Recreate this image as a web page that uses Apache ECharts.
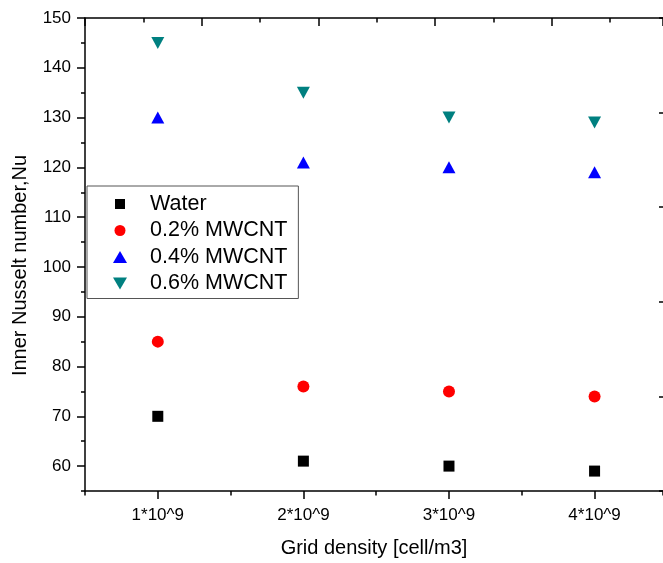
<!DOCTYPE html>
<html><head><meta charset="utf-8">
<script src="https://cdn.jsdelivr.net/npm/echarts@6/dist/echarts.min.js"></script>
<style>html,body{margin:0;padding:0;background:#fff}#c{width:663px;height:563px}</style>
</head><body><div id="c"></div>
<script>
const categories = [1, 2, 3, 4];
const tickLabels = ['1*10^9', '2*10^9', '3*10^9', '4*10^9'];
const seriesNames = ['Water', '0.2% MWCNT', '0.4% MWCNT', '0.6% MWCNT'];
const water = [70, 61, 60, 59];
const mwcnt02 = [85, 76, 75, 74];
const mwcnt04 = [130, 121, 120, 119];
const mwcnt06 = [145, 135, 130, 129];
const yMajorTicks = [60, 70, 80, 90, 100, 110, 120, 130, 140, 150];

const FONT = 'Arial, "Liberation Sans", sans-serif';
const lineS = { color: '#000', width: 1.5 };
const toPts = arr => categories.map((c, i) => [c, arr[i]]);
const DOWN_TRI = 'path://M0,0L10,0L5,10Z';

const legendIcons = [
  'path://M0,0M39,14M9,2h10v10h-10z',
  'path://M0,0M39,14M8.5,7a5.5,5.5 0 1,0 11,0a5.5,5.5 0 1,0 -11,0z',
  'path://M0,0M39,14M7,13L14,1L21,13Z',
  'path://M0,0M39,14M7,1L21,1L14,13Z'
];

const chart = echarts.init(document.getElementById('c'), null, { renderer: 'canvas' });
chart.setOption({
  animation: false,
  backgroundColor: '#fff',
  textStyle: { fontFamily: FONT },
  grid: { left: 85, top: 18, right: 0, height: 474 },
  legend: {
    orient: 'vertical', left: 87, top: 186,
    padding: [7, 11, 4, 19],
    itemWidth: 39, itemHeight: 14, itemGap: 4.5,
    symbolKeepAspect: false,
    backgroundColor: '#fff', borderColor: '#555', borderWidth: 1, borderRadius: 0,
    textStyle: { fontSize: 21.5, lineHeight: 20, color: '#000', fontFamily: FONT },
    data: seriesNames.map((n, i) => ({ name: n, icon: legendIcons[i], itemStyle: { opacity: 1 } }))
  },
  xAxis: [
    {
      type: 'value', position: 'bottom', min: 0.5, max: 4.47, interval: 0.5,
      axisLine: { show: true, lineStyle: lineS },
      axisTick: { show: true, length: 4.5, lineStyle: lineS },
      axisLabel: { show: false }, splitLine: { show: false },
      name: 'Grid density [cell/m3]', nameLocation: 'middle', nameGap: 47,
      nameTextStyle: { fontSize: 20, color: '#000', fontFamily: FONT }
    },
    {
      type: 'value', position: 'bottom', min: 0.5, max: 4.47,
      axisLine: { show: false },
      axisTick: { show: true, customValues: categories, length: 8, lineStyle: lineS },
      axisLabel: {
        show: true, customValues: categories, margin: 16, fontSize: 17, color: '#000', fontFamily: FONT,
        formatter: v => tickLabels[categories.indexOf(Math.round(v))]
      },
      splitLine: { show: false }
    },
    {
      type: 'value', position: 'top', min: 0, max: 4.954, interval: 1,
      axisLine: { show: true, lineStyle: lineS },
      axisTick: { show: true, inside: true, length: 8, lineStyle: lineS },
      minorTick: { show: true, splitNumber: 2, length: 4.5, lineStyle: lineS },
      axisLabel: { show: false }, splitLine: { show: false }, minorSplitLine: { show: false }
    }
  ],
  yAxis: [
    {
      type: 'value', position: 'left', min: 55, max: 150, interval: 5,
      axisLine: { show: true, lineStyle: lineS },
      axisTick: { show: true, length: 4, lineStyle: lineS },
      axisLabel: { show: false }, splitLine: { show: false }
    },
    {
      type: 'value', position: 'left', min: 55, max: 150,
      axisLine: { show: false },
      axisTick: { show: true, customValues: yMajorTicks, length: 8, lineStyle: lineS },
      axisLabel: { show: true, customValues: yMajorTicks, margin: 14, fontSize: 17, color: '#000', fontFamily: FONT },
      splitLine: { show: false },
      name: 'Inner Nusselt number,Nu', nameLocation: 'middle', nameGap: 55, nameRotate: 90,
      nameTextStyle: { fontSize: 20, color: '#000', fontFamily: FONT, padding: [0, 22, 0, 0] }
    },
    {
      type: 'value', position: 'right', min: 0, max: 5, interval: 1,
      axisLine: { show: false },
      axisTick: { show: true, inside: true, length: 4, lineStyle: lineS },
      axisLabel: { show: false }, splitLine: { show: false }
    }
  ],
  series: [
    { name: seriesNames[0], type: 'scatter', symbol: 'rect', symbolSize: 11, itemStyle: { color: '#000', opacity: 1 }, data: toPts(water) },
    { name: seriesNames[1], type: 'scatter', symbol: 'circle', symbolSize: 12, itemStyle: { color: '#ff0000', opacity: 1 }, data: toPts(mwcnt02) },
    { name: seriesNames[2], type: 'scatter', symbol: 'triangle', symbolSize: [13, 12], itemStyle: { color: '#0000ff', opacity: 1 }, data: toPts(mwcnt04) },
    { name: seriesNames[3], type: 'scatter', symbol: DOWN_TRI, symbolSize: [13, 12], symbolKeepAspect: false, itemStyle: { color: '#008080', opacity: 1 }, data: toPts(mwcnt06) }
  ]
});
</script></body></html>
